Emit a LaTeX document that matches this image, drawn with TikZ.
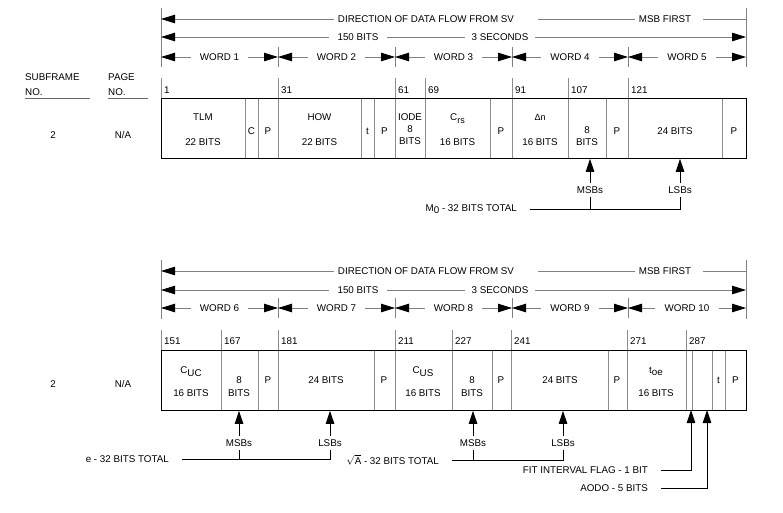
\documentclass[tikz,border=0pt]{standalone}
\usepackage{fontspec}
\setmainfont{Liberation Sans}
\usepackage{tikz}
\usetikzlibrary{arrows.meta,positioning,calc}

\begin{document}
\begin{tikzpicture}[x=1pt,y=-1pt,
    font=\fontsize{9.8}{12}\selectfont,
    hdr/.style={draw=black!50,line width=0.8pt},
    headtip/.style={-{Triangle[length=14pt,width=8.5pt,color=black]}},
    dvd/.style={draw=black!45,line width=0.8pt},
    wordframe/.style={draw=black,line width=0.8pt,anchor=north west,inner sep=0pt,
                      minimum width=585pt,minimum height=60pt},
    fld/.style={align=center,inner sep=0pt},
    bitno/.style={anchor=west,inner xsep=3pt},
    htxt/.style={inner xsep=4pt,inner ysep=1pt},
    wtxt/.style={inner xsep=9pt},
    note/.style={anchor=east,inner xsep=13pt},
    uparr/.style={draw=black,line width=0.8pt,-{Triangle[length=13pt,width=8.5pt]}},
    conn/.style={draw=black,line width=0.8pt},
]
\useasboundingbox (0,0) rectangle (783,512);

% column headings
\node[anchor=west,align=left,inner sep=0pt,font=\fontsize{9.8}{15}\selectfont] (subfr) at (25,84.5) {SUBFRAME\\NO.};
\node[anchor=west,align=left,inner sep=0pt,font=\fontsize{9.8}{15}\selectfont] (pageno) at (108,84.5) {PAGE\\NO.};
\draw[draw=black!60,line width=0.8pt] ([yshift=-3pt]subfr.south west) -- ++(65,0);
\draw[draw=black!60,line width=0.8pt] ([yshift=-3pt]pageno.south west) -- ++(40,0);

%%% subframe 2, words 1-5
\coordinate (lA) at (161,8);
\coordinate (rA) at (746,8);
\draw[hdr] (lA) -- (161,67);
\draw[hdr] (rA) -- (746,67);
\node[htxt] (dirA) at (426,19) {DIRECTION OF DATA FLOW FROM SV};
\node[htxt] (msbfirstA) at (665,19) {MSB FIRST};
\draw[hdr,headtip] (dirA.west) -- (dirA.west -| lA);
\draw[hdr] ([xshift=20pt]dirA.east) -- (msbfirstA.west);
\draw[hdr] ([xshift=8pt]msbfirstA.east) -- (msbfirstA.east -| rA);
\node[htxt,inner xsep=8pt] (bitsA) at (358,37) {150 BITS};
\node[htxt,inner xsep=6pt] (secA) at (500,37) {3 SECONDS};
\draw[hdr,headtip] (bitsA.west) -- (bitsA.west -| lA);
\draw[hdr] (bitsA.east) -- (secA.west);
\draw[hdr,headtip] (secA.east) -- (secA.east -| rA);
\foreach \x [count=\k from 0] in {161,278,395,512,628,746}
    \coordinate (bA\k) at (\x,57);
\foreach \k in {1,...,4}
    \draw[hdr] (bA\k) ++(0,-10) -- ++(0,20);
\foreach \j/\i in {0/1,1/2,2/3,3/4,4/5} {
    \node[wtxt] (wA\i) at ($(bA\j)!0.5!(bA\i)$) {WORD \i};
    \draw[hdr,headtip] (wA\i.west) -- (bA\j);
    \draw[hdr,headtip] (wA\i.east) -- (bA\i);
}

\node[wordframe] (frameA) at (161,98) {};
\foreach \x in {245,258,361,374,490,606,722}
    \draw[dvd] (\x,98) -- (\x,158);
\foreach \x/\n in {161/1,278/31,395/61,425/69,512/91,568/107,628/121} {
    \draw[dvd] (\x,78) -- (\x,158);
    \node[bitno] (nA\n) at (\x,90) {\n};
}
\draw[conn] (frameA.north west) rectangle (frameA.south east);

\node (sfA) at (53,135) {2};
\node (pgA) at (123,135) {N/A};

\node[fld] (tlm) at (203,129.5) {TLM\\[13pt]22 BITS};
\node[fld] (cflag) at (251.5,131) {C};
\node[fld] (pA1) at (268,131) {P};
\node[fld] (how) at (319.5,129.5) {HOW\\[13pt]22 BITS};
\node[fld] (tA1) at (367.5,131) {t};
\node[fld] (pA2) at (384.5,131) {P};
\node[fld] (iode) at (410,129.5) {IODE\\8\\BITS};
\node[fld] (crs) at (457.5,129.5) {C\raisebox{-3pt}{\small rs}\\[13pt]16 BITS};
\node[fld] (pA3) at (501,131) {P};
\node[fld] (dn) at (540,129.5) {{\small Δn}\\[13pt]16 BITS};
\node[fld] (mzmsb) at (587,136) {8\\BITS};
\node[fld] (pA4) at (617,131) {P};
\node[fld] (mzlsb) at (675,131) {24 BITS};
\node[fld] (pA5) at (734,131) {P};

\node (msA) at (590,190) {MSBs};
\node (lsA) at (680,190) {LSBs};
\node[note] (mtot) at (530,209) {M\raisebox{-2pt}{0} - 32 BITS TOTAL};
\draw[uparr] (msA.north) -- (msA.north |- frameA.south);
\draw[uparr] (lsA.north) -- (lsA.north |- frameA.south);
\draw[conn] (msA.south) -- (msA.south |- mtot.east);
\draw[conn] (mtot.east) -| (lsA.south);

%%% subframe 2, words 6-10
\coordinate (lB) at (161,260);
\coordinate (rB) at (746,260);
\draw[hdr] (lB) -- (161,319);
\draw[hdr] (rB) -- (746,319);
\node[htxt] (dirB) at (426,271) {DIRECTION OF DATA FLOW FROM SV};
\node[htxt] (msbfirstB) at (665,271) {MSB FIRST};
\draw[hdr,headtip] (dirB.west) -- (dirB.west -| lB);
\draw[hdr] ([xshift=20pt]dirB.east) -- (msbfirstB.west);
\draw[hdr] ([xshift=8pt]msbfirstB.east) -- (msbfirstB.east -| rB);
\node[htxt,inner xsep=8pt] (bitsB) at (358,290) {150 BITS};
\node[htxt,inner xsep=6pt] (secB) at (500,290) {3 SECONDS};
\draw[hdr,headtip] (bitsB.west) -- (bitsB.west -| lB);
\draw[hdr] (bitsB.east) -- (secB.west);
\draw[hdr,headtip] (secB.east) -- (secB.east -| rB);
\foreach \x [count=\k from 0] in {161,278,395,512,628,746}
    \coordinate (bB\k) at (\x,308);
\foreach \k in {1,...,4}
    \draw[hdr] (bB\k) ++(0,-10) -- ++(0,20);
\foreach \j/\i/\w in {0/1/6,1/2/7,2/3/8,3/4/9,4/5/10} {
    \node[wtxt] (wB\i) at ($(bB\j)!0.5!(bB\i)$) {WORD \w};
    \draw[hdr,headtip] (wB\i.west) -- (bB\j);
    \draw[hdr,headtip] (wB\i.east) -- (bB\i);
}

\node[wordframe] (frameB) at (161,350) {};
\foreach \x in {258,374,492,608,692,712,725}
    \draw[dvd] (\x,350) -- (\x,410);
\foreach \x/\n in {161/151,221/167,278/181,395/211,452/227,511/241,627/271,686/287} {
    \draw[dvd] (\x,330) -- (\x,410);
    \node[bitno] (nB\n) at (\x,341) {\n};
}
\draw[conn] (frameB.north west) rectangle (frameB.south east);

\node (sfB) at (53,384) {2};
\node (pgB) at (123,384) {N/A};

\node[fld] (cuc) at (191,381.5) {C\raisebox{-3pt}{UC}\\[11pt]16 BITS};
\node[fld] (emsb) at (239,386.5) {8\\[1pt]BITS};
\node[fld] (pB1) at (268,380) {P};
\node[fld] (elsb) at (326,380) {24 BITS};
\node[fld] (pB2) at (384,380) {P};
\node[fld] (cus) at (423,381.5) {C\raisebox{-3pt}{US}\\[11pt]16 BITS};
\node[fld] (amsb) at (472,386.5) {8\\[1pt]BITS};
\node[fld] (pB3) at (501,380) {P};
\node[fld] (alsb) at (560,380) {24 BITS};
\node[fld] (pB4) at (617,380) {P};
\node[fld] (toe) at (656,381.5) {t\raisebox{-2pt}{oe}\\[11pt]16 BITS};
\node[fld] (tB1) at (718.5,380) {t};
\node[fld] (pB5) at (735.5,380) {P};

\node (msE) at (239,443) {MSBs};
\node (lsE) at (330,443) {LSBs};
\node[note] (etot) at (182,459) {e - 32 BITS TOTAL};
\draw[uparr] (msE.north) -- (msE.north |- frameB.south);
\draw[uparr] (lsE.north) -- (lsE.north |- frameB.south);
\draw[conn] (msE.south) -- (msE.south |- etot.east);
\draw[conn] (etot.east) -| (lsE.south);

\node (msS) at (473,443) {MSBs};
\node (lsS) at (563,443) {LSBs};
\node[note] (sqtot) at (452,460) {$\sqrt{\mathrm{A}}$ - 32 BITS TOTAL};
\draw[uparr] (msS.north) -- (msS.north |- frameB.south);
\draw[uparr] (lsS.north) -- (lsS.north |- frameB.south);
\draw[conn] (msS.south) -- (msS.south |- sqtot.east);
\draw[conn] (sqtot.east) -| (lsS.south);

\coordinate (fitpt) at (691,410);
\coordinate (aodopt) at (707,410);
\node[note] (fit) at (661,470) {FIT INTERVAL FLAG - 1 BIT};
\node[note] (aodo) at (661,488) {AODO - 5 BITS};
\draw[uparr] (fit.east) -| (fitpt);
\draw[uparr] (aodo.east) -| (aodopt);
\end{tikzpicture}
\end{document}
